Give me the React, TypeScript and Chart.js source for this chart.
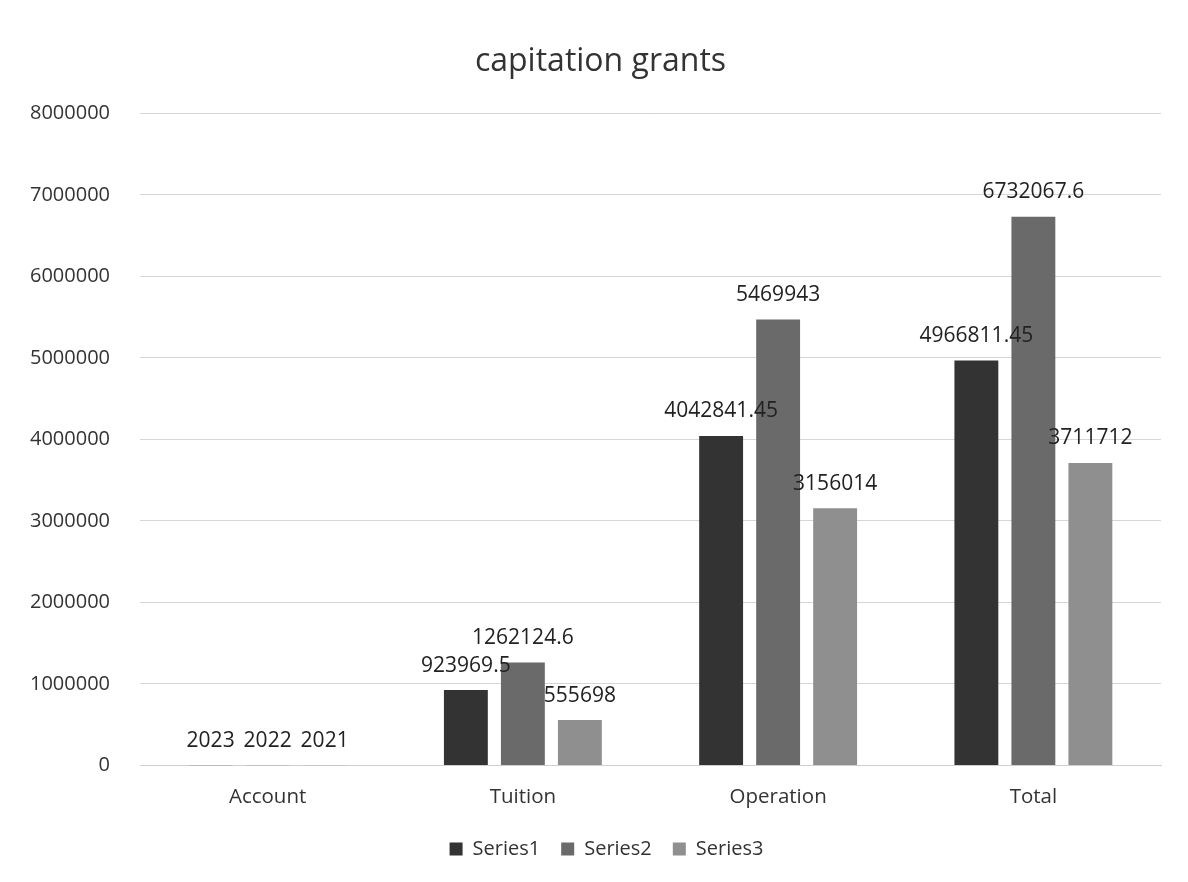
import React, { useEffect, useRef } from "react";
import { Chart, registerables } from "chart.js";

Chart.register(...registerables);

const categories = ["Account", "Tuition", "Operation", "Total"];
const series1 = [2023, 923969.5, 4042841.45, 4966811.45];
const series2 = [2022, 1262124.6, 5469943, 6732067.6];
const series3 = [2021, 555698, 3156014, 3711712];
const seriesNames = ["Series1", "Series2", "Series3"];
const seriesColors = ["#333333", "#6a6a6a", "#8f8f8f"];
const titleText = "capitation grants";

const FONT = "'Open Sans', 'Liberation Sans', sans-serif";

const dataLabelPlugin = {
  id: "dataLabels",
  afterDatasetsDraw(chart: any) {
    const ctx = chart.ctx;
    ctx.save();
    ctx.font = `21px ${FONT}`;
    ctx.fillStyle = "#222222";
    ctx.textAlign = "center";
    ctx.textBaseline = "bottom";
    chart.data.datasets.forEach((ds: any, i: number) => {
      const meta = chart.getDatasetMeta(i);
      meta.data.forEach((bar: any, j: number) => {
        const v = ds.data[j];
        ctx.fillText(String(v), bar.x, bar.y - 14);
      });
    });
    ctx.restore();
  },
};

// nudge title / legend boxes to match the reference placement
const nudgePlugin = {
  id: "nudge",
  afterLayout(chart: any) {
    const t = chart.titleBlock;
    if (t) {
      t.left += 6;
      t.right += 6;
    }
    const l = chart.legend;
    if (l) {
      l.left += 12;
      l.right += 12;
      l.top -= 2;
      l.bottom -= 2;
    }
  },
};

export default function App() {
  const ref = useRef<HTMLCanvasElement>(null);
  useEffect(() => {
    document.body.style.margin = "0";
    const chart = new Chart(ref.current!, {
      type: "bar",
      data: {
        labels: categories,
        datasets: [series1, series2, series3].map((d, i) => ({
          label: seriesNames[i],
          data: d,
          backgroundColor: seriesColors[i],
          categoryPercentage: 0.67,
          barPercentage: 0.77,
        })),
      },
      options: {
        responsive: false,
        animation: false,
        layout: { padding: { left: 28, right: 27, top: 0, bottom: 11 } },
        plugins: {
          title: {
            display: true,
            text: titleText,
            color: "#333333",
            font: { family: FONT, size: 32, weight: "normal" },
            padding: { top: 43, bottom: 32 },
          },
          legend: {
            position: "bottom",
            labels: {
              color: "#333333",
              font: { family: FONT, size: 20 },
              boxWidth: 13,
              boxHeight: 13,
              padding: 21,
            },
          },
          tooltip: { enabled: false },
        },
        scales: {
          x: {
            grid: { display: false },
            border: { color: "#cfcfcf" },
            ticks: { color: "#333333", font: { family: FONT, size: 20.5 }, padding: 11 },
          },
          y: {
            min: 0,
            max: 8000000,
            afterFit: (axis: any) => {
              axis.width = 112;
            },
            ticks: {
              stepSize: 1000000,
              color: "#333333",
              font: { family: FONT, size: 20 },
              padding: 30,
              callback: (v: any) => String(v),
            },
            grid: { color: "#d6d6d6", drawTicks: false },
            border: { display: false },
          },
        },
      },
      plugins: [dataLabelPlugin, nudgePlugin],
    });
    return () => chart.destroy();
  }, []);
  return <canvas ref={ref} width={1188} height={882} style={{ display: "block" }} />;
}
